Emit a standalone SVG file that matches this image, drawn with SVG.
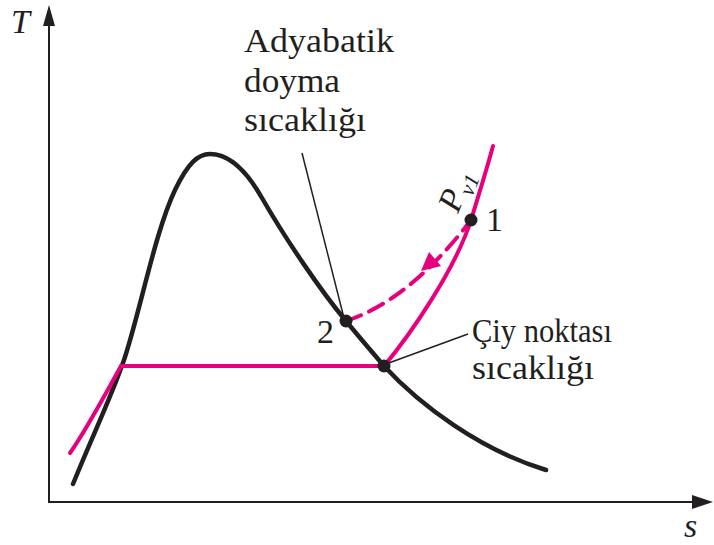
<svg xmlns="http://www.w3.org/2000/svg" width="714" height="545" viewBox="0 0 714 545">
<style>
.lbl{font-family:"Liberation Serif","Times New Roman",serif;font-size:34px;fill:#231f20}
.it{font-style:italic}
.blk{fill:none;stroke:#231f20;stroke-width:4.5;stroke-linecap:round;stroke-linejoin:round}
.mag{fill:none;stroke:#e6007e;stroke-width:4;stroke-linecap:round}
.axis{fill:none;stroke:#231f20;stroke-width:2}
.lead{fill:none;stroke:#231f20;stroke-width:1.5}
.dot{fill:#231f20}
</style>
<rect width="714" height="545" fill="#fff"/>
<g id="axes">
<line class="axis" x1="49" y1="502" x2="49" y2="20"/>
<polygon points="49,5 43,26 55,26" fill="#231f20"/>
<line class="axis" x1="48" y1="502" x2="696" y2="502"/>
<polygon points="713,502 692,495 692,509" fill="#231f20"/>
<text class="lbl it" x="11" y="33" font-size="36">T</text>
<text class="lbl it" x="684" y="537" font-size="34">s</text>
</g>
<g id="dome">
<path class="blk" d="M73,484 C95,430 110,400 124,360 C140,312 155,232 175,190 C188,163 198,154 210,154 C228,154 245,168 262,198 C285,238 320,290 346,321 C360,338 372,352 384,366 C420,405 480,450 546,470"/>
</g>
<g id="connectors">
<path class="mag" d="M70,453 C85,432 105,395 121,366"/>
<path class="mag" d="M121,366 H384"/>
<path class="mag" d="M384,366 C410,335 455,270 471,220 C478,197 486,172 493,146"/>
<path class="mag" d="M346,321 Q410,300 471,220" stroke-dasharray="16 9"/>
<polygon points="421,271 429,252 441,266" fill="#e6007e"/>
<line class="lead" x1="302" y1="153" x2="344" y2="318"/>
<line class="lead" x1="386" y1="364" x2="468" y2="334"/>
</g>
<g id="point1">
<circle class="dot" cx="471" cy="220" r="6.5"/>
<text class="lbl" x="486" y="231">1</text>
</g>
<g id="point2">
<circle class="dot" cx="346" cy="321" r="6.5"/>
<text class="lbl" x="317" y="343">2</text>
</g>
<g id="dewpoint">
<circle class="dot" cx="384" cy="366" r="6.5"/>
<text class="lbl" x="472" y="342" textLength="140" lengthAdjust="spacingAndGlyphs">Çiy noktası</text>
<text class="lbl" x="472" y="379" textLength="122" lengthAdjust="spacingAndGlyphs">sıcaklığı</text>
</g>
<g id="adiabatic">
<text class="lbl" x="244" y="52" textLength="150" lengthAdjust="spacingAndGlyphs">Adyabatik</text>
<text class="lbl" x="244" y="92" textLength="96" lengthAdjust="spacingAndGlyphs">doyma</text>
<text class="lbl" x="244" y="131" textLength="122" lengthAdjust="spacingAndGlyphs">sıcaklığı</text>
</g>
<g id="pv1">
<text class="lbl it" transform="translate(458,214) rotate(-68)">P<tspan font-size="22" dy="7">v1</tspan></text>
</g>
</svg>
